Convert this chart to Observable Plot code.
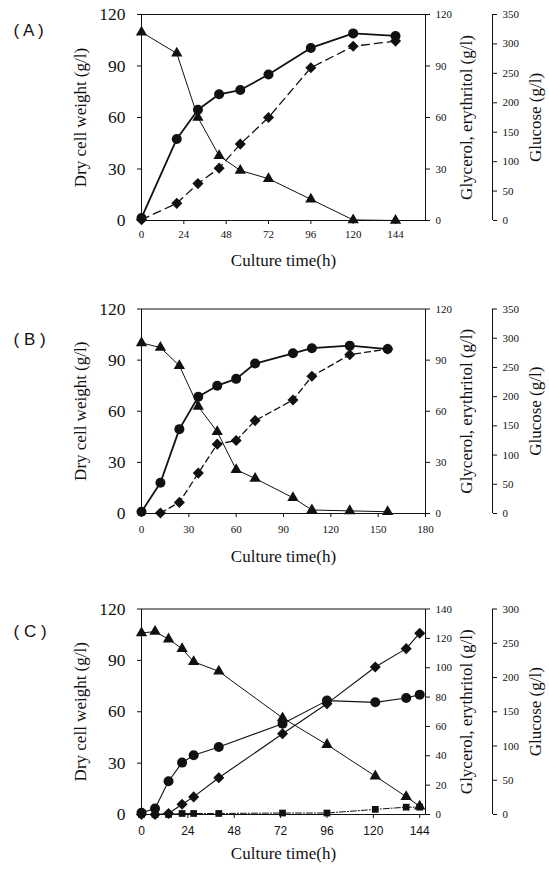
<!DOCTYPE html>
<html>
<head>
<meta charset="utf-8">
<script src="https://cdn.jsdelivr.net/npm/d3@7"></script>
<script src="https://cdn.jsdelivr.net/npm/@observablehq/plot@0.6"></script>
<style>
  body { margin: 0; background: #fff; }
  #chart { width: 549px; height: 873px; position: relative; }
  #chart svg { display: block; font-family: "Liberation Serif", "DejaVu Serif", "Times New Roman", serif !important; }
  #chart svg .sans, #chart svg .sans text { font-family: "Liberation Sans", Arial, sans-serif !important; }
</style>
</head>
<body>
<div id="chart"></div>
<script>
// ---------- Panel A ----------
const timeA = [0, 20, 32, 44, 56, 72, 96, 120, 144];
const dcwA  = [1.5, 47.5, 64.5, 73.5, 76, 85, 100.5, 109, 107.5];
const eryA  = [0.5, 10, 21.5, 30.5, 44.5, 60, 89, 101.5, 104.5];
const gluA  = [320, 284, 175, 110, 85, 71, 36, 1, 0];
const xTicksA = [0, 24, 48, 72, 96, 120, 144];

// ---------- Panel B ----------
const timeB    = [0, 12, 24, 36, 48, 60, 72, 96, 108, 132, 156];
const dcwB     = [1, 18, 49.5, 68.5, 75, 79, 88, 94, 97, 98.5, 96.5];
const eryTimeB = [12, 24, 36, 48, 60, 72, 96, 108, 132, 156];
const eryB     = [0.3, 6.5, 23.7, 40.7, 42.8, 54.5, 66.6, 80.5, 93.2, 96.5];
const gluB     = [292, 284, 253, 183, 140, 75, 60, 27, 6, 4.5, 3];
const xTicksB  = [0, 30, 60, 90, 120, 150, 180];

// ---------- Panel C ----------
const timeC = [0, 7, 14, 21, 27, 40, 73, 96, 121, 137, 144];
const dcwC  = [1, 3.5, 19.4, 30.3, 34.6, 39.4, 53, 66.5, 65.5, 68, 70];
const eryC  = [0, 0, 0.7, 7, 12, 25, 55, 75.5, 100.5, 113, 123.5];
const glyC  = [0, 0, 0, 0.7, 0.7, 0.7, 1, 1, 3.5, 5, 5];
const gluC  = [265, 267, 256, 242, 223, 209, 141, 102, 56, 26, 12];
const xTicksC = [0, 24, 48, 72, 96, 120, 144];

// ---------- Axis tick labels ----------
const dcwTicks   = [0, 30, 60, 90, 120];
const glyTicksAB = [0, 30, 60, 90, 120];
const glyTicksC  = [0, 20, 40, 60, 80, 100, 120, 140];
const gluTicksAB = [0, 50, 100, 150, 200, 250, 300, 350];
const gluTicksC  = [0, 50, 100, 150, 200, 250, 300];

const INK = "#111";

function panel(cfg) {
  const ky = 120 / cfg.glyMax, kg = 120 / cfg.gluMax;
  const marks = [Plot.frame({stroke: INK, strokeWidth: 1})];
  for (const s of cfg.series) {
    const k = s.axis === "gly" ? ky : s.axis === "glu" ? kg : 1;
    const data = s.t.map((t, i) => ({t, v: s.v[i] * k}));
    marks.push(Plot.line(data, {x: "t", y: "v", stroke: INK, strokeWidth: s.sw, strokeDasharray: s.dash}));
    marks.push(Plot.dot(data, {x: "t", y: "v", symbol: s.symbol, r: s.r, fill: INK, stroke: "none"}));
  }
  marks.push(
    Plot.axisX({ticks: cfg.xTicks, tickSize: 4, tickPadding: cfg.xPad, fontSize: cfg.xFont, className: cfg.xSans ? "sans" : undefined, label: null}),
    Plot.axisY({ticks: dcwTicks, tickSize: 4, tickPadding: 12, fontSize: 17.5, label: null}),
    Plot.axisY({anchor: "right", ticks: cfg.glyTicks.map(v => v * ky), tickFormat: d => String(Math.round(d / ky)),
      tickSize: 4, tickPadding: 6, fontSize: 11, label: null}),
    Plot.ruleX([cfg.xMax], {dx: 67, stroke: INK}),
    Plot.axisY({anchor: "right", dx: 67, ticks: cfg.gluTicks.map(v => v * kg), tickFormat: d => String(Math.round(d / kg)),
      tickSize: 4, tickPadding: 6, fontSize: 11, label: null}),
    Plot.text(["Dry cell weight (g/l)"], {frameAnchor: "left", textAnchor: "middle", rotate: -90, dx: -61, fontSize: 17}),
    Plot.text(["Glycerol, erythritol (g/l)"], {frameAnchor: "right", textAnchor: "middle", rotate: -90, dx: 41, fontSize: 17}),
    Plot.text(["Glucose (g/l)"], {frameAnchor: "right", textAnchor: "middle", rotate: -90, dx: 110, fontSize: 17}),
    Plot.text(["Culture time(h)"], {frameAnchor: "bottom", dy: cfg.titleDy, fontSize: 17}),
    Plot.text([cfg.label], {frameAnchor: "top-left", textAnchor: "start", dx: -128, dy: cfg.labelDy, fontSize: 17, className: "sans"})
  );
  return Plot.plot({
    width: 549,
    height: cfg.height,
    marginLeft: 141,
    marginRight: 124,
    marginTop: cfg.marginTop,
    marginBottom: cfg.marginBottom,
    x: {domain: [0, cfg.xMax]},
    y: {domain: [0, 120]},
    style: {background: "white", color: INK, overflow: "visible"},
    marks
  });
}

const chart = document.getElementById("chart");

chart.append(panel({
  label: "( A )", labelDy: 9, height: 290, marginTop: 14, marginBottom: 70,
  xMax: 161, xTicks: xTicksA, xPad: 6, xFont: 11, xSans: false, titleDy: 45,
  glyMax: 120, glyTicks: glyTicksAB, gluMax: 350, gluTicks: gluTicksAB,
  series: [
    {t: timeA, v: gluA, axis: "glu", symbol: "triangle", r: 4.2, sw: 1},
    {t: timeA, v: eryA, axis: "gly", symbol: "diamond2", r: 5, sw: 1.3, dash: "8,5"},
    {t: timeA, v: dcwA, axis: "dcw", symbol: "circle", r: 5, sw: 1.8}
  ]
}));

chart.append(panel({
  label: "( B )", labelDy: 24, height: 297, marginTop: 18.5, marginBottom: 74,
  xMax: 180, xTicks: xTicksB, xPad: 8, xFont: 11, xSans: false, titleDy: 48,
  glyMax: 120, glyTicks: glyTicksAB, gluMax: 350, gluTicks: gluTicksAB,
  series: [
    {t: timeB, v: gluB, axis: "glu", symbol: "triangle", r: 4.2, sw: 1},
    {t: eryTimeB, v: eryB, axis: "gly", symbol: "diamond2", r: 5, sw: 1.3, dash: "6,4"},
    {t: timeB, v: dcwB, axis: "dcw", symbol: "circle", r: 5, sw: 1.8}
  ]
}));

chart.append(panel({
  label: "( C )", labelDy: 16, height: 286, marginTop: 21.5, marginBottom: 59,
  xMax: 147, xTicks: xTicksC, xPad: 8, xFont: 12, xSans: true, titleDy: 44,
  glyMax: 140, glyTicks: glyTicksC, gluMax: 300, gluTicks: gluTicksC,
  series: [
    {t: timeC, v: gluC, axis: "glu", symbol: "triangle", r: 4.2, sw: 1},
    {t: timeC, v: glyC, axis: "gly", symbol: "square", r: 3.8, sw: 1, dash: "6,2,1,2"},
    {t: timeC, v: eryC, axis: "gly", symbol: "diamond2", r: 5, sw: 1.1},
    {t: timeC, v: dcwC, axis: "dcw", symbol: "circle", r: 5, sw: 1.1}
  ]
}));
</script>
</body>
</html>
